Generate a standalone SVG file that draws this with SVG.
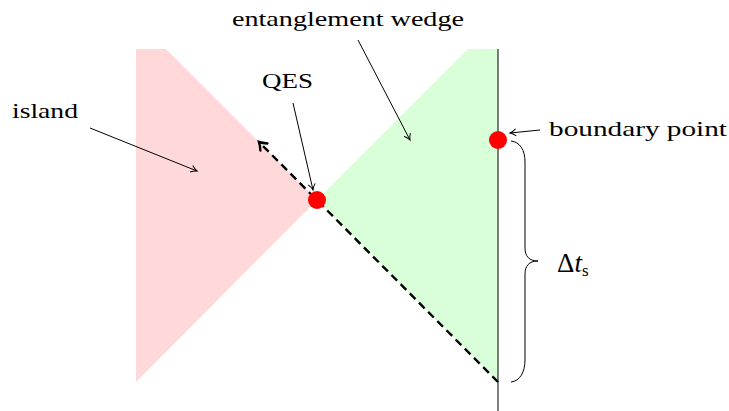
<svg xmlns="http://www.w3.org/2000/svg" width="729" height="411" viewBox="0 0 729 411">
<style>
text{font-family:"Liberation Serif","DejaVu Serif",serif;font-size:21px;fill:#000}
.ln{stroke:#000;stroke-width:1;fill:none}
.big{font-size:27px}
.sub{font-size:17px}
</style>
<defs>
<marker id="ah" markerWidth="10" markerHeight="10" refX="8" refY="5" orient="auto" markerUnits="userSpaceOnUse">
<path d="M2,1.5 Q5,4 8,5 Q5,6 2,8.5" fill="none" stroke="#000" stroke-width="1"/>
</marker>
<marker id="ahd" markerWidth="14" markerHeight="14" refX="10" refY="7" orient="auto" markerUnits="userSpaceOnUse">
<path d="M3,2 Q7,5.5 10,7 Q7,8.5 3,12" fill="none" stroke="#000" stroke-width="2.4" stroke-linecap="round"/>
</marker>
</defs>
<rect width="729" height="411" fill="#fff"/>
<g id="island-region"><polygon points="136,49 166,49 317,200 136,382" fill="#ffd9d9"/></g>
<g id="wedge-region"><polygon points="317,200 468,49 498,49 498,382" fill="#d9ffd9"/></g>
<g id="boundary"><line x1="498" y1="49" x2="498" y2="411" stroke="#000" stroke-width="1"/></g>
<g id="connectors">
<line x1="498" y1="382" x2="259" y2="142" stroke="#000" stroke-width="2.4" stroke-dasharray="8,5" marker-end="url(#ahd)"/>
<line class="ln" x1="90" y1="128" x2="197" y2="171" marker-end="url(#ah)"/>
<line class="ln" x1="358" y1="40" x2="410" y2="140" marker-end="url(#ah)"/>
<line class="ln" x1="293" y1="103" x2="313" y2="190" marker-end="url(#ah)"/>
<line class="ln" x1="540" y1="130" x2="510" y2="133" marker-end="url(#ah)"/>
<path class="ln" d="M511,141 C520,142 525,150 525,162 L525,248 C525,256 529,261 538,261 C529,261 525,266 525,274 L525,360 C525,372 520,381 511,382"/>
</g>
<g id="qes"><circle cx="317" cy="200" r="9" fill="#ff0000"/><text x="262" y="88" textLength="51" lengthAdjust="spacingAndGlyphs">QES</text></g>
<g id="boundary-point"><circle cx="498" cy="140" r="9" fill="#ff0000"/><text x="549" y="136" textLength="178" lengthAdjust="spacingAndGlyphs">boundary point</text></g>
<g id="island-label"><text x="12" y="118" textLength="66" lengthAdjust="spacingAndGlyphs">island</text></g>
<g id="wedge-label"><text x="232" y="26" textLength="232" lengthAdjust="spacingAndGlyphs">entanglement wedge</text></g>
<g id="delta-label"><text class="big" x="557" y="272">Δ<tspan font-style="italic">t</tspan><tspan class="sub" dy="4">s</tspan></text></g>
</svg>
